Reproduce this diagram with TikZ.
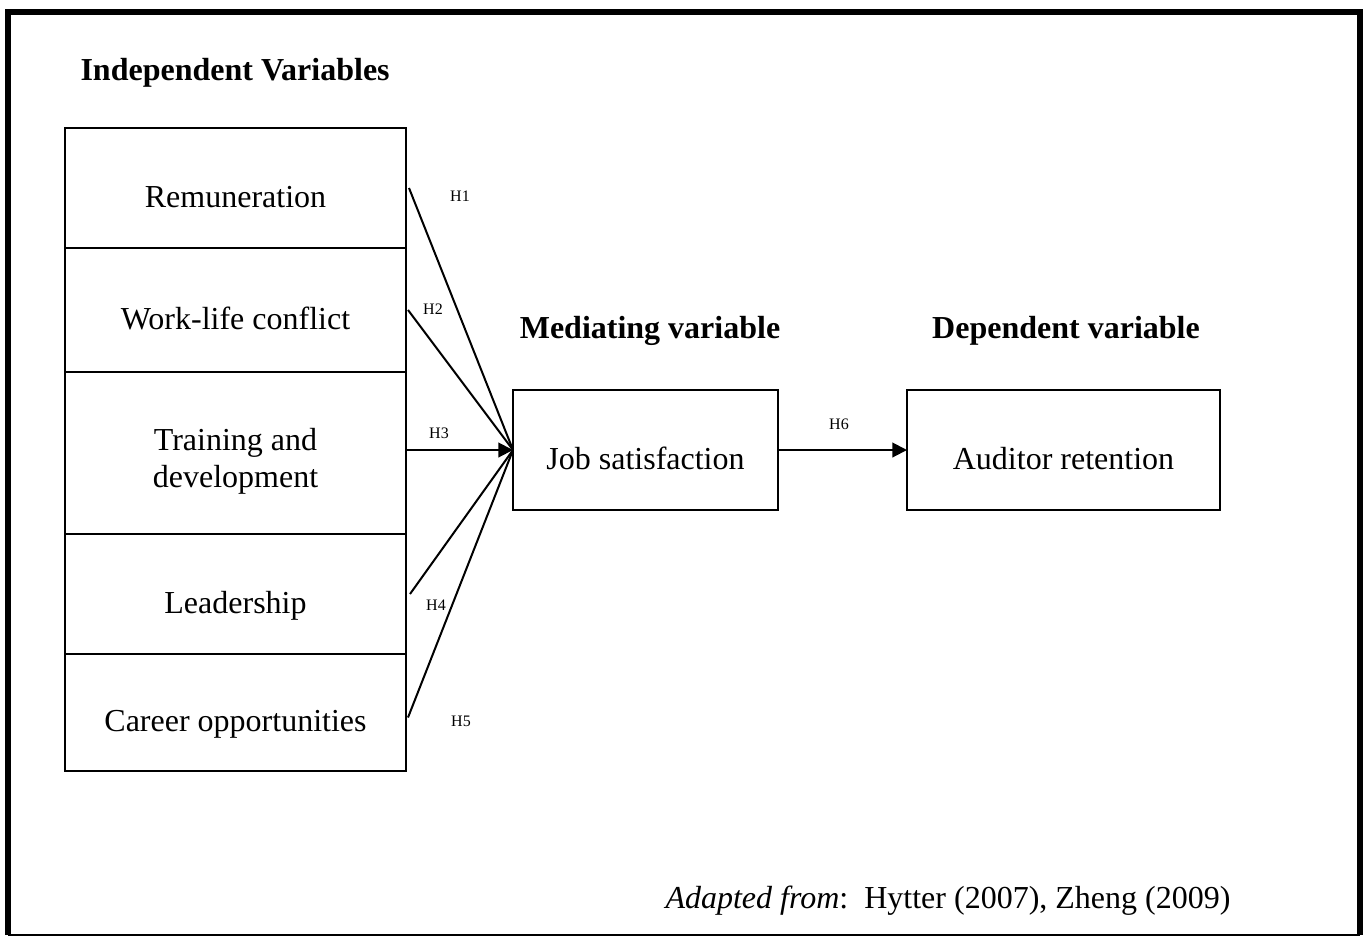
\documentclass[tikz,border=0pt]{standalone}
\usepackage{fontspec}
\setmainfont{Liberation Serif}
\usepackage{tikz}
\usetikzlibrary{positioning,arrows.meta,calc}

\def\px{0.375pt}

\begin{document}
\begin{tikzpicture}[
  x=\px, y=-\px,
  font=\fontsize{12}{14}\selectfont,
  >={Triangle[length=5.5pt,width=5.5pt]},
  blk/.style   = {draw, line width=0.75pt, align=center, inner sep=0pt,
                  outer sep=0pt, minimum width=#1,
                  text height=14.5pt, text depth=0pt},
  ivar/.style  = {blk=341*\px},
  hdr/.style   = {font=\fontsize{12}{14}\selectfont\bfseries, anchor=base,
                  inner sep=0pt},
  hyp/.style   = {font=\fontsize{6}{7}\selectfont, inner sep=0pt},
  flow/.style  = {line width=0.75pt},
  frame/.style = {line width=6*\px}
]

\useasboundingbox (0,0) rectangle (1368,936);

% ======================= outer frame ========================================
\draw[frame] (7.5,935) -- (7.5,11.5) -- (1360,11.5) -- (1360,935);
\draw[line width=1.5*\px] (7.5,935) -- (1360,935);

% ======================= independent variables ==============================
\node[hdr, anchor=base west] (hind) at (80,80) {Independent Variables};

\node[ivar, minimum height=120*\px, anchor=north west] (rem) at (65,128)
  {Remuneration};
\node[ivar, minimum height=124*\px, below=0pt of rem] (wlc)
  {Work-life conflict};
% two lines: natural depth, taller box pushes the text down
\node[ivar, minimum height=162*\px, below=0pt of wlc,
      text height=28.5pt, text depth=] (trn)
  {Training and\\development};
\node[ivar, minimum height=120*\px, below=0pt of trn] (lead)
  {Leadership};
\node[ivar, minimum height=117*\px, below=0pt of lead] (car)
  {Career opportunities};

% ======================= mediator and outcome ===============================
\node[blk=265*\px, minimum height=120*\px, anchor=north west] (job) at (513,390)
  {Job satisfaction};
\node[blk=313*\px, minimum height=120*\px, right=129*\px of job] (aud)
  {Auditor retention};

\node[hdr] (hmed) at (650,338) {Mediating variable};
\node[hdr] (hdep) at (1066,338) {Dependent variable};

% ======================= hypotheses =========================================
\draw[flow] ([xshift=3*\px]rem.east)  -- (job.west);
\draw[flow] ([xshift=2*\px]wlc.east)  -- (job.west);
\draw[flow, ->] (trn.east|-job.west)  -- (job.west);
\draw[flow] ([xshift=4*\px]lead.east) -- (job.west);
\draw[flow] ([xshift=2*\px,yshift=-5*\px]car.east) -- (job.west);
\draw[flow, ->] (job.east) -- (aud.west);

\node[hyp] (h1) at (460,196) {H1};
\node[hyp] (h2) at (433,309) {H2};
\node[hyp] (h3) at (439,433) {H3};
\node[hyp] (h4) at (436,605) {H4};
\node[hyp] (h5) at (461,721) {H5};
\node[hyp] (h6) at (839,424) {H6};

% ======================= source =============================================
\node[anchor=base west, inner sep=0pt] (src) at (665,908)
  {\textit{Adapted from}:\ \ Hytter (2007), Zheng (2009)};

\end{tikzpicture}
\end{document}
